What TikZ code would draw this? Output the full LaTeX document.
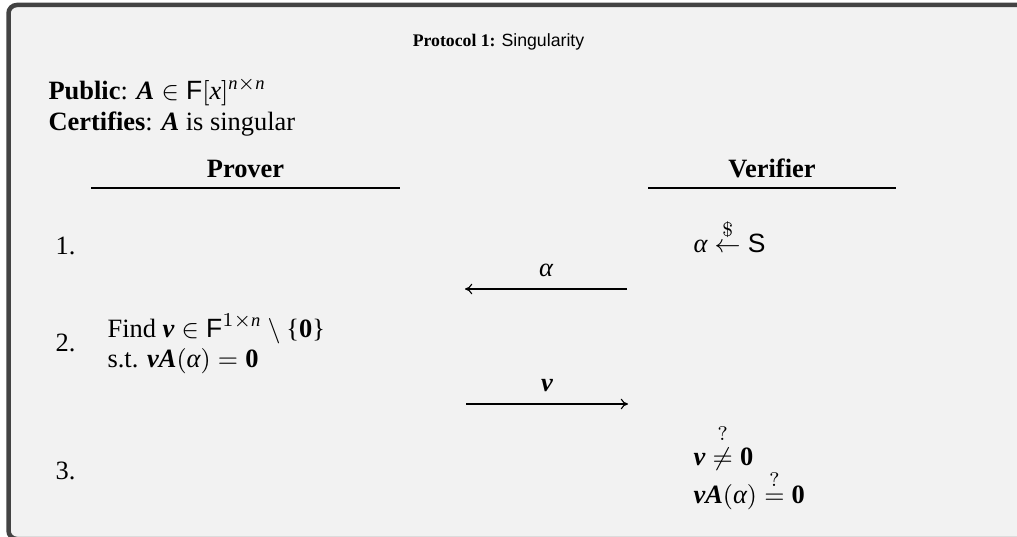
\documentclass[tikz,border=0pt]{standalone}
\usepackage{amsmath}
\usepackage{fontspec}
\setmainfont{Liberation Serif}
\setsansfont{Liberation Sans}
\usetikzlibrary{arrows.meta}
\newcommand{\bvec}[1]{\text{\bfseries\itshape #1}}
\newcommand{\bzero}{\text{\bfseries 0}}
\newcommand{\galpha}{\text{\itshape α}}
\newcommand{\qmark}[1]{\overset{\raisebox{0.6pt}{$\scriptstyle #1$}}}

\begin{document}
\begin{tikzpicture}[x=0.0125cm, y=-0.0125cm, font=\fontsize{9.4}{11}\selectfont,
    txt/.style={anchor=base west, inner sep=0pt},
    head/.style={anchor=base, inner sep=0pt, font=\fontsize{9.4}{11}\selectfont\bfseries},
    msg/.style={-{Computer Modern Rightarrow[length=2.6pt, width=3.8pt]}, line width=0.4pt}]
    % --- Colores ---
    \definecolor{boxbg}{HTML}{F2F2F2}
    \definecolor{boxline}{HTML}{434343}

    % --- Marco ---
    \useasboundingbox (0,0) rectangle (1017,537);
    \begin{scope}
        \clip (0,0) rectangle (1017,537);
        \draw[boxline, fill=boxbg, line width=1.6pt, rounded corners=3pt] (8.5,5) rectangle (1060,539);
    \end{scope}

    % --- Titulo ---
    \node[anchor=base, inner sep=0pt, font=\fontsize{6.3}{7.5}\selectfont] (title) at (498.5,47) {\textbf{Protocol 1:} \textsf{Singularity}};

    % --- Datos publicos ---
    \node[txt] (public) at (48,100) {\textbf{Public}: $\bvec{A} \in \mathsf{F}[\mathit{x}]^{\mathit{n}\times \mathit{n}}$};
    \node[txt] (certif) at (48,131) {\textbf{Certifies}: $\bvec{A}$ is singular};

    % --- Cabeceras de las partes ---
    \node[head] (prover) at (245.5,178) {Prover};
    \node[head] (verifier) at (772,178) {Verifier};
    \coordinate (pl) at (91,188);   \coordinate (pr) at (400,188);
    \coordinate (vl) at (648,188);  \coordinate (vr) at (896,188);
    \draw[line width=0.45pt] (pl) -- (pr);
    \draw[line width=0.45pt] (vl) -- (vr);

    % --- Numeros de paso ---
    \node[txt] (s1) at (55,255) {1.};
    \node[txt] (s2) at (55,352) {2.};
    \node[txt] (s3) at (55,479) {3.};

    % --- Paso 1: el verificador elige alpha ---
    \node[txt] (sample) at (693,253) {$\galpha \qmark{\$}{\leftarrow} \mathsf{S}$};
    \coordinate (a0) at (627,289);
    \coordinate (a1) at (465,289);
    \draw[msg] (a0) -- node[above, inner sep=4pt] (alab) {$\galpha$} (a1);

    % --- Paso 2: el probador halla v ---
    \node[txt] (find) at (107,337) {Find $\bvec{v} \in \mathsf{F}^{1\times \mathit{n}} \setminus \text{\{}\bzero\text{\}}$};
    \node[txt] (st) at (107,367) {s.t. $\bvec{v}\bvec{A}(\galpha) = \bzero$};
    \coordinate (v0) at (466,404);
    \coordinate (v1) at (628,404);
    \draw[msg] (v0) -- node[above, inner sep=4pt] (vlab) {$\bvec{v}$} (v1);

    % --- Paso 3: comprobaciones ---
    \node[txt] (chk1) at (693,465) {$\bvec{v} \qmark{?}{\neq} \bzero$};
    \node[txt] (chk2) at (693,503) {$\bvec{v}\bvec{A}(\galpha) \qmark{?}{=} \bzero$};
\end{tikzpicture}
\end{document}
